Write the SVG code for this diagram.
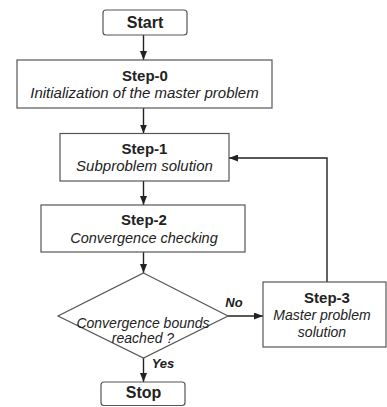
<svg xmlns="http://www.w3.org/2000/svg" width="387" height="407" viewBox="0 0 387 407">
<style>
.box{fill:#fff;stroke:#555;stroke-width:1.2}
.ln{fill:none;stroke:#222;stroke-width:1.4}
text{font-family:"Liberation Sans",Arial,sans-serif;fill:#222;text-anchor:middle}
.b{font-weight:bold;font-size:15px}
.i{font-style:italic;font-size:15px}
.t{font-weight:bold;font-size:16px}
.lbl{font-weight:bold;font-style:italic;font-size:13px}
</style>
<defs>
<marker id="ah" markerWidth="9" markerHeight="7" refX="9" refY="3.5" orient="auto" markerUnits="userSpaceOnUse">
<path d="M0,0 L9,3.5 L0,7 Z" fill="#222"/>
</marker>
</defs>
<rect width="387" height="407" fill="#fff"/>
<g id="connectors">
<line class="ln" x1="143.5" y1="35" x2="143.5" y2="60" marker-end="url(#ah)"/>
<line class="ln" x1="143.5" y1="108" x2="143.5" y2="133.5" marker-end="url(#ah)"/>
<line class="ln" x1="143.5" y1="181" x2="143.5" y2="205" marker-end="url(#ah)"/>
<line class="ln" x1="143.5" y1="252" x2="143.5" y2="273" marker-end="url(#ah)"/>
<line class="ln" x1="228" y1="316" x2="263" y2="316" marker-end="url(#ah)"/>
<line class="ln" x1="143.5" y1="358" x2="143.5" y2="382" marker-end="url(#ah)"/>
<polyline class="ln" points="327,282 327,158 229,158" marker-end="url(#ah)"/>
<text class="lbl" x="234" y="306.5">No</text>
<text class="lbl" x="163" y="368">Yes</text>
</g>
<g id="start">
<rect class="box" x="103" y="10" width="84" height="25" rx="3"/>
<text class="t" x="145" y="28">Start</text>
</g>
<g id="step0">
<rect class="box" x="17" y="60" width="255" height="48"/>
<text class="b" x="145" y="81">Step-0</text>
<text class="i" x="144.5" y="98">Initialization of the master problem</text>
</g>
<g id="step1">
<rect class="box" x="60" y="133.5" width="169" height="47.5"/>
<text class="b" x="144.5" y="154">Step-1</text>
<text class="i" x="144.5" y="171">Subproblem solution</text>
</g>
<g id="step2">
<rect class="box" x="41" y="205" width="204" height="47"/>
<text class="b" x="144" y="225">Step-2</text>
<text class="i" x="144" y="242.5" style="font-size:14.5px">Convergence checking</text>
</g>
<g id="decision">
<polygon class="box" points="143.5,273 228,316 143.5,358 58,316"/>
<text class="i" x="143" y="327.5" style="font-size:14px">Convergence bounds</text>
<text class="i" x="143" y="343" style="font-size:14px">reached ?</text>
</g>
<g id="step3">
<rect class="box" x="263" y="282" width="123" height="65"/>
<text class="b" x="327" y="302.5">Step-3</text>
<text class="i" x="322" y="320" style="font-size:14px">Master problem</text>
<text class="i" x="322" y="337" style="font-size:14px">solution</text>
</g>
<g id="stop">
<rect class="box" x="101" y="382" width="84" height="23.5" rx="3"/>
<text class="t" x="143.5" y="397.5">Stop</text>
</g>
</svg>
